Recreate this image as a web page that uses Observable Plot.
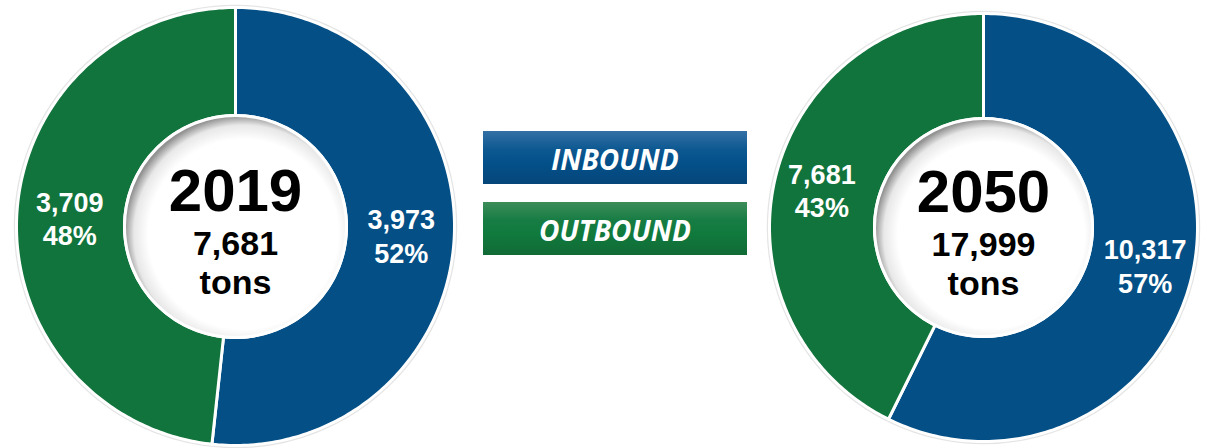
<!DOCTYPE html>
<html>
<head>
<meta charset="utf-8">
<script src="https://cdn.jsdelivr.net/npm/d3@7"></script>
<script src="https://cdn.jsdelivr.net/npm/@observablehq/plot@0.6"></script>
<style>
  body { margin: 0; background: #fff; }
  #wrap { position: relative; width: 1207px; height: 448px; overflow: hidden; }
  #wrap svg { position: absolute; left: 0; top: 0; }
  .legend { position: absolute; left: 483px; width: 264px; height: 53px; display: flex; align-items: center; justify-content: center;
            color: #fff; font: italic 700 28px "Open Sans", sans-serif; padding-top: 2px; box-sizing: border-box; }
</style>
</head>
<body>
<div id="wrap"></div>
<script>
// ---- data ----
const years = ["2019", "2050"];
const totals = ["7,681", "17,999"];
const unit = "tons";
const categories = ["INBOUND", "OUTBOUND"];
const categoryColors = ["#034f86", "#11743c"];
const inboundTons = [3973, 10317];
const outboundTons = [3709, 7681];
const inboundLabels = ["3,973", "10,317"];
const outboundLabels = ["3,709", "7,681"];
const inboundPct = ["52%", "57%"];
const outboundPct = ["48%", "43%"];

// ---- layout ----
const W = 1207, H = 448;
const donuts = [
  {cx: 235, cy: 226, outer: 219, inner: 111},
  {cx: 983, cy: 227, outer: 214, inner: 109}
];
const labelR = 166;

const slicePts = [];
const sliceLabels = [];
const centers = [];
years.forEach((yr, i) => {
  const d = donuts[i];
  const arcs = d3.pie().sort(null).value(v => v)([inboundTons[i], outboundTons[i]]);
  arcs.forEach((a, j) => {
    const id = yr + "-" + categories[j];
    const n = 200;
    const pts = [];
    for (let k = 0; k <= n; k++) {
      const t = a.startAngle + (a.endAngle - a.startAngle) * k / n;
      pts.push({x: d.cx + d.outer * Math.sin(t), y: d.cy - d.outer * Math.cos(t)});
    }
    for (let k = n; k >= 0; k--) {
      const t = a.startAngle + (a.endAngle - a.startAngle) * k / n;
      pts.push({x: d.cx + d.inner * Math.sin(t), y: d.cy - d.inner * Math.cos(t)});
    }
    pts.push(pts[0]);
    pts.forEach(p => slicePts.push({id, x: p.x, y: p.y, color: categoryColors[j]}));
    const mid = (a.startAngle + a.endAngle) / 2;
    sliceLabels.push({
      x: d.cx + labelR * Math.sin(mid),
      y: d.cy - labelR * Math.cos(mid),
      text: (j === 0 ? inboundLabels[i] : outboundLabels[i]) + "\n" + (j === 0 ? inboundPct[i] : outboundPct[i])
    });
  });
  centers.push({x: d.cx, y: d.cy, r: d.inner, outer: d.outer, year: yr, total: totals[i], unit});
});

const font = "Liberation Sans, Arial, sans-serif";
const plot = Plot.plot({
  width: W, height: H, margin: 0,
  x: {domain: [0, W], range: [0, W], axis: null},
  y: {domain: [0, H], range: [0, H], axis: null},
  color: {type: "identity"},
  r: {type: "identity"},
  style: {background: "transparent", overflow: "visible"},
  marks: [
    Plot.dot(centers, {x: "x", y: "y", r: d => d.outer + 1.5, fill: "none", stroke: "#d8d8d8", strokeWidth: 2.5, strokeOpacity: 0.7}),
    Plot.line(slicePts, {x: "x", y: "y", z: "id", fill: "color", stroke: "white", strokeWidth: 3, strokeLinejoin: "round", curve: "linear"}),
    Plot.dot(centers, {x: "x", y: "y", r: "r", fill: "url(#holeShade)", stroke: "white", strokeWidth: 3}),
    Plot.text(centers, {x: "x", y: d => d.y - 16, text: "year", fontSize: 60, fontWeight: "bold", fill: "black", lineAnchor: "bottom", fontFamily: font}),
    Plot.text(centers, {x: "x", y: d => d.y + 28, text: "total", fontSize: 34, fontWeight: "bold", fill: "black", lineAnchor: "bottom", fontFamily: font}),
    Plot.text(centers, {x: "x", y: d => d.y + 67, text: "unit", fontSize: 34, fontWeight: "bold", fill: "black", lineAnchor: "bottom", fontFamily: font}),
    Plot.text(sliceLabels, {x: "x", y: "y", text: "text", fontSize: 27, fontWeight: "bold", fill: "white", lineAnchor: "middle", lineHeight: 1.24, fontFamily: font})
  ]
});

d3.select(plot).insert("defs", ":first-child").html(`
  <radialGradient id="holeShade" cx="0.535" cy="0.535" r="0.535">
    <stop offset="0.80" stop-color="#ffffff"/>
    <stop offset="0.92" stop-color="#e8e8e8"/>
    <stop offset="1" stop-color="#929292"/>
  </radialGradient>`);

const wrap = document.getElementById("wrap");
wrap.appendChild(plot);

const legendStyles = [
  {top: 131, bg: "linear-gradient(to bottom, #3370a5 0%, #0d5891 35%, #03508a 60%, #064679 100%)"},
  {top: 202, bg: "linear-gradient(to bottom, #3d8d59 0%, #167c43 35%, #107a3d 60%, #116a36 100%)"}
];
categories.forEach((c, i) => {
  const div = document.createElement("div");
  div.className = "legend";
  div.style.top = legendStyles[i].top + "px";
  div.style.background = legendStyles[i].bg;
  div.textContent = c;
  wrap.appendChild(div);
});
</script>
</body>
</html>
